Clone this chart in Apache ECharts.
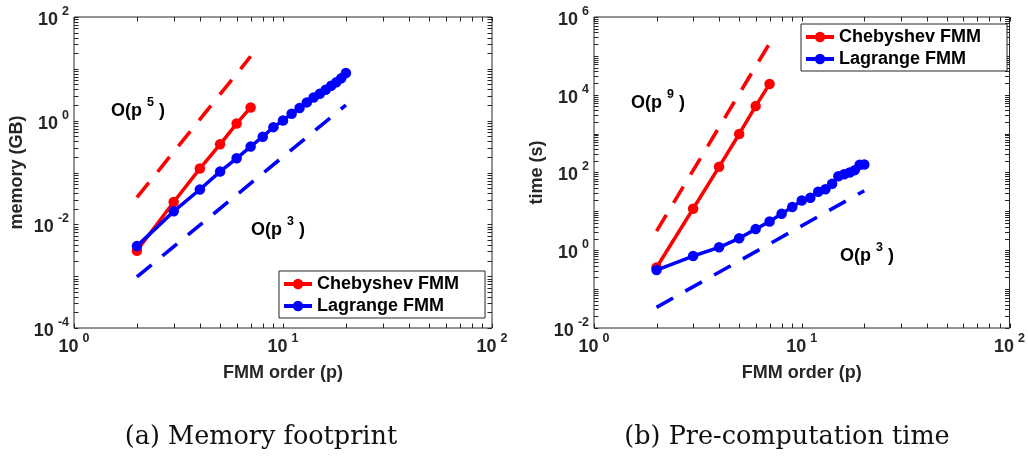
<!DOCTYPE html>
<html>
<head>
<meta charset="utf-8">
<script src="https://cdn.jsdelivr.net/npm/echarts@6/dist/echarts.min.js"></script>
<style>
  html, body { margin: 0; padding: 0; background: #ffffff; }
  #chart { width: 1028px; height: 456px; }
</style>
</head>
<body>
<div id="chart"></div>
<script>
// ---------------- data ----------------
const pCheb = [2, 3, 4, 5, 6, 7];
const pLag = [2, 3, 4, 5, 6, 7, 8, 9, 10, 11, 12, 13, 14, 15, 16, 17, 18, 19, 20];

// (a) memory footprint, GB
const memCheb = [0.0031, 0.027, 0.119, 0.35, 0.88, 1.8];
const memLag = [0.0038, 0.0178, 0.047, 0.104, 0.188, 0.316, 0.49, 0.75, 1.01, 1.36, 1.75, 2.25, 2.8, 3.3, 3.95, 4.7, 5.5, 6.6, 8.3];

// (b) pre-computation time, s
const timeCheb = [0.36, 11.7, 140, 980, 5100, 19000];
const timeLag = [0.31, 0.71, 1.19, 2.03, 3.5, 5.5, 8.7, 12.9, 19, 22.5, 32, 37, 51, 80, 90, 100, 115, 158, 160];

// reference slope lines (end points)
const refP5 = { p: [2, 7], v: [0.033, 17.3] };     // O(p^5), memory
const refP3mem = { p: [2, 20], v: [0.00097, 2.0] }; // O(p^3), memory
const refP9 = { p: [2, 7], v: [3.1, 2.1e5] };      // O(p^9), time
const refP3time = { p: [2, 20], v: [0.034, 34] };   // O(p^3), time

// axis ranges
const xRange = [1, 100];
const yRangeMem = [1e-4, 1e2];
const yRangeTime = [1e-2, 1e6];

const legendNames = ['Chebyshev FMM', 'Lagrange FMM'];
const captions = ['(a) Memory footprint', '(b) Pre-computation time'];

// ---------------- helpers ----------------
const SANS = 'Liberation Sans';
const AX = '#262626';
const RED = '#ff0000';
const BLUE = '#0000ff';
const TICK_LEN = 4.5;

function zip(xs, ys) { return xs.map((x, i) => [x, ys[i]]); }

function logTicks(lo, hi) {
  const out = [];
  const e0 = Math.round(Math.log10(lo)), e1 = Math.round(Math.log10(hi));
  for (let e = e0; e < e1; e++) {
    for (let k = 1; k <= 9; k++) out.push(k * Math.pow(10, e));
  }
  out.push(hi);
  return out;
}

function tickSeriesData(xr, yr) {
  const d = [];
  logTicks(xr[0], xr[1]).forEach(v => d.push([v, yr[0], 0, yr[1]]));
  logTicks(yr[0], yr[1]).forEach(v => d.push([xr[0], v, 1, xr[1]]));
  return d;
}

function renderTick(params, api) {
  const t = api.value(2);
  const style = { stroke: AX, lineWidth: 1 };
  if (t === 0) {
    const v = api.value(0);
    const b = api.coord([v, api.value(1)]);
    const tp = api.coord([v, api.value(3)]);
    const x = Math.round(b[0]) + 0.5;
    return { type: 'group', children: [
      { type: 'line', shape: { x1: x, y1: b[1], x2: x, y2: b[1] - TICK_LEN }, style },
      { type: 'line', shape: { x1: x, y1: tp[1], x2: x, y2: tp[1] + TICK_LEN }, style }
    ]};
  } else {
    const v = api.value(1);
    const l = api.coord([api.value(0), v]);
    const r = api.coord([api.value(3), v]);
    const y = Math.round(l[1]) + 0.5;
    return { type: 'group', children: [
      { type: 'line', shape: { x1: l[0], y1: y, x2: l[0] + TICK_LEN, y2: y }, style },
      { type: 'line', shape: { x1: r[0], y1: y, x2: r[0] - TICK_LEN, y2: y }, style }
    ]};
  }
}

const labelRich = {
  b: { fontFamily: SANS, fontWeight: 'bold', fontSize: 18, color: AX, lineHeight: 24, verticalAlign: 'bottom' },
  s: { fontFamily: SANS, fontWeight: 'bold', fontSize: 12.5, color: AX, lineHeight: 13, verticalAlign: 'top', padding: [0, 0, 0, 4] }
};
function powLabel(v) {
  const e = Math.round(Math.log10(v));
  return '{b|10}{s|' + e + '}';
}
function yPowLabel(v) {
  const e = Math.round(Math.log10(v));
  if (e % 2 !== 0) return '';
  return '{b|10}{s|' + e + '}';
}

function makeX(gi) {
  return {
    gridIndex: gi, type: 'log', logBase: 10, min: xRange[0], max: xRange[1],
    axisLine: { show: false }, axisTick: { show: false }, splitLine: { show: false },
    axisLabel: { formatter: powLabel, rich: labelRich, margin: 4 },
    name: 'FMM order (p)', nameLocation: 'middle', nameGap: 36,
    nameTextStyle: { fontFamily: SANS, fontWeight: 'bold', fontSize: 18, color: AX }
  };
}
function makeY(gi, r, name) {
  return {
    gridIndex: gi, type: 'log', logBase: 10, min: r[0], max: r[1],
    axisLine: { show: false }, axisTick: { show: false }, splitLine: { show: false },
    axisLabel: { formatter: yPowLabel, rich: labelRich, margin: 5 },
    name: name, nameLocation: 'middle', nameGap: 48, nameRotate: 90,
    nameTextStyle: { fontFamily: SANS, fontWeight: 'bold', fontSize: 18, color: AX }
  };
}

function dataLine(name, xi, data, color, z) {
  return {
    name, type: 'line', xAxisIndex: xi, yAxisIndex: xi, data,
    symbol: 'circle', symbolSize: 10.5, showAllSymbol: true,
    lineStyle: { color, width: 3.5 }, itemStyle: { color },
    animation: false, z: z
  };
}
function dashLine(name, xi, data, color) {
  return {
    name, type: 'line', xAxisIndex: xi, yAxisIndex: xi, data,
    symbol: 'none', lineStyle: { color, width: 3.6, type: [19, 14] },
    animation: false, silent: true, z: 2
  };
}

function annot(x, y, exp) {
  return {
    type: 'text', x, y,
    style: {
      text: '{a|O(p }{s|' + exp + '}{a| )}',
      verticalAlign: 'middle',
      rich: {
        a: { fontFamily: SANS, fontWeight: 'bold', fontSize: 18, fill: '#000', lineHeight: 24, verticalAlign: 'bottom' },
        s: { fontFamily: SANS, fontWeight: 'bold', fontSize: 12.5, fill: '#000', lineHeight: 13, verticalAlign: 'top' }
      }
    }
  };
}

function legendCfg(left, top) {
  return {
    data: legendNames, orient: 'vertical', left, top,
    itemWidth: 28, itemHeight: 13, itemGap: 4,
    padding: [4, 26, 3, 3],
    lineStyle: { width: 4 },
    borderColor: AX, borderWidth: 1, backgroundColor: '#fff',
    textStyle: { fontFamily: SANS, fontWeight: 'bold', fontSize: 18, color: '#000' },
    selectedMode: false
  };
}

const chart = echarts.init(document.getElementById('chart'), null, { renderer: 'canvas' });
chart.setOption({
  backgroundColor: '#ffffff',
  animation: false,
  grid: [
    { left: 74, top: 17, width: 418, height: 311, show: true, borderColor: AX, borderWidth: 1, backgroundColor: 'transparent' },
    { left: 594, top: 17, width: 417, height: 311, show: true, borderColor: AX, borderWidth: 1, backgroundColor: 'transparent' }
  ],
  xAxis: [makeX(0), makeX(1)],
  yAxis: [makeY(0, yRangeMem, 'memory (GB)'), makeY(1, yRangeTime, 'time (s)')],
  legend: [legendCfg(279, 271), legendCfg(801, 24)],
  series: [
    { type: 'custom', name: 'ticksA', xAxisIndex: 0, yAxisIndex: 0, silent: true, clip: false,
      data: tickSeriesData(xRange, yRangeMem), renderItem: renderTick, encode: { x: 0, y: 1 }, z: 1 },
    { type: 'custom', name: 'ticksB', xAxisIndex: 1, yAxisIndex: 1, silent: true, clip: false,
      data: tickSeriesData(xRange, yRangeTime), renderItem: renderTick, encode: { x: 0, y: 1 }, z: 1 },
    dashLine('O(p^5)', 0, zip(refP5.p, refP5.v), RED),
    dashLine('O(p^3) mem', 0, zip(refP3mem.p, refP3mem.v), BLUE),
    dataLine(legendNames[0], 0, zip(pCheb, memCheb), RED, 3),
    dataLine(legendNames[1], 0, zip(pLag, memLag), BLUE, 4),
    dashLine('O(p^9)', 1, zip(refP9.p, refP9.v), RED),
    dashLine('O(p^3) time', 1, zip(refP3time.p, refP3time.v), BLUE),
    dataLine(legendNames[0], 1, zip(pCheb, timeCheb), RED, 3),
    dataLine(legendNames[1], 1, zip(pLag, timeLag), BLUE, 4)
  ],
  graphic: [
    annot(111, 108, 5),
    annot(251, 227, 3),
    annot(631, 100, 9),
    annot(840, 253, 3),
    { type: 'text', x: 261, y: 437, style: { text: captions[0], align: 'center', verticalAlign: 'middle',
        fontFamily: 'DejaVu Serif', fontSize: 25.5, fill: '#111' } },
    { type: 'text', x: 787, y: 437, style: { text: captions[1], align: 'center', verticalAlign: 'middle',
        fontFamily: 'DejaVu Serif', fontSize: 25.5, fill: '#111' } }
  ]
});
</script>
</body>
</html>
